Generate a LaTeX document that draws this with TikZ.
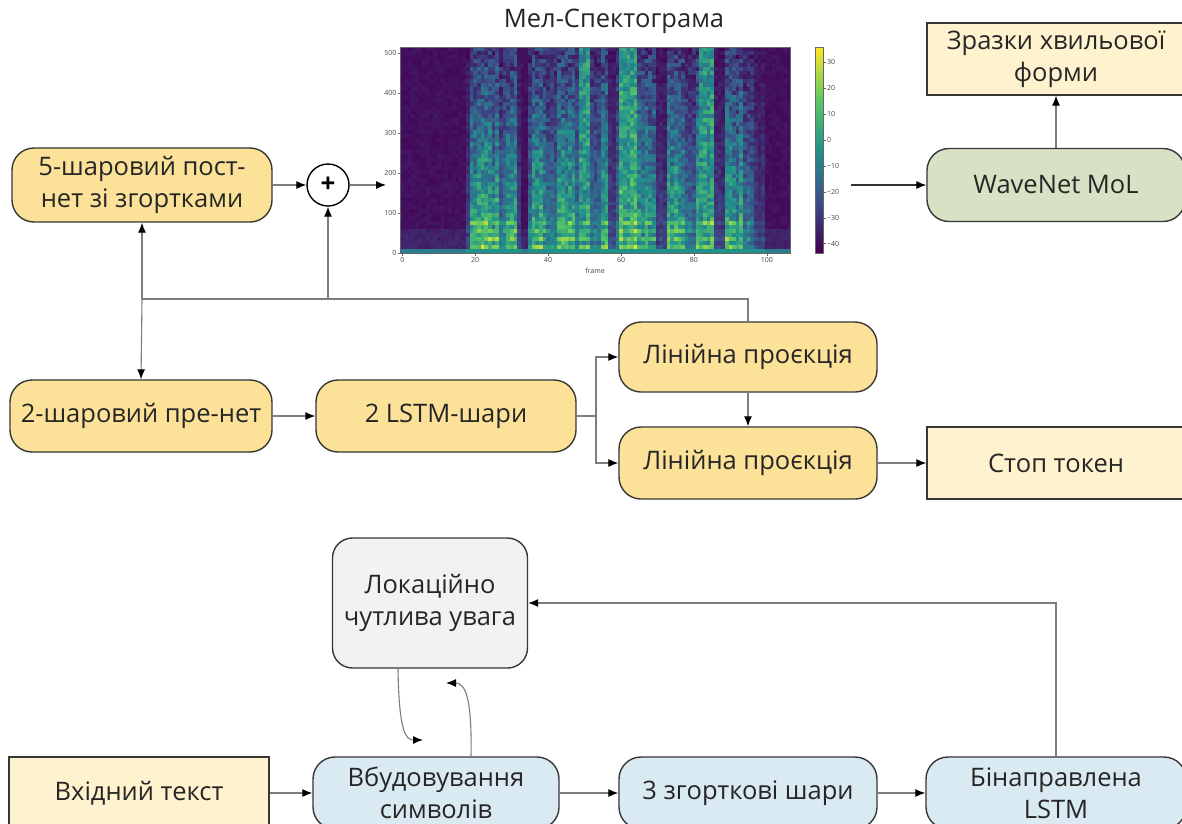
\documentclass[tikz,border=0pt]{standalone}
\usepackage{fontspec}
\setmainfont{Open Sans}
\usetikzlibrary{arrows.meta,calc}

% palette
\definecolor{boxline}{RGB}{55,55,55}
\definecolor{gold}{RGB}{252,225,152}
\definecolor{cream}{RGB}{255,242,206}
\definecolor{sage}{RGB}{214,226,195}
\definecolor{skyb}{RGB}{218,234,243}
\definecolor{greyb}{RGB}{242,242,242}
\definecolor{conn}{RGB}{125,125,125}
\definecolor{ticktxt}{RGB}{70,70,70}
% viridis stops
\definecolor{vA}{RGB}{68,1,84}
\definecolor{vB}{RGB}{59,82,139}
\definecolor{vC}{RGB}{33,145,140}
\definecolor{vD}{RGB}{94,201,98}
\definecolor{vE}{RGB}{253,231,37}

\newcommand\bxf{\fontsize{25.5}{32}\selectfont}
\newcommand\tkf{\fontsize{7}{8}\selectfont}

% map a value in [0,1] to the viridis colour "spc"
\newcommand\setvir[1]{%
  \pgfmathsetmacro\virv{max(0,min(0.999,#1))}%
  \pgfmathtruncatemacro\virs{floor(\virv*4)}%
  \pgfmathsetmacro\virt{(\virv*4-\virs)*100}%
  \ifcase\virs\relax
    \colorlet{spc}{vB!\virt!vA}%
  \or \colorlet{spc}{vC!\virt!vB}%
  \or \colorlet{spc}{vD!\virt!vC}%
  \else \colorlet{spc}{vE!\virt!vD}%
  \fi}

\tikzset{
  blk/.style={draw=boxline, line width=1.4pt, align=center, font=\bxf,
              inner sep=0pt, text=black!85},
  rbox/.style={blk, rounded corners=22pt},
  sbox/.style={blk},
  line/.style={draw=conn, line width=1.1pt},
  arr/.style={line, -{Latex[length=10pt,width=8pt,color=black]}},
}

\begin{document}
\begin{tikzpicture}[x=1pt,y=-1pt]
\useasboundingbox (0,0) rectangle (1182,823);
\fill[white] (0,0) rectangle (1182,823);
\clip (0,0) rectangle (1182,823);

% ---------- mel spectrogram ----------
\node[font=\bxf, text=black!85] (title) at (614,21) {Мел-Спектограма};
\pgfmathsetseed{11}
\foreach \lev [count=\fidx from 0] in {0,0,0,0,0,0,0,0,0,0,0,0,0,0,0,0,0,0,1,3,3,3,3,3,3,3,3,2,2,3,3,3,1,0,0,2,3,3,3,3,2,2,2,3,3,3,3,3,2,4,4,4,2,2,2,3,3,1,1,2,4,4,4,4,4,3,3,3,3,3,1,1,1,3,3,3,3,3,2,2,2,3,4,4,4,4,1,1,1,3,3,3,3,3,2,2,2,1,1,1,0,0,0,0,0,0,0}{
  \pgfmathsetmacro\spc{0.82+0.3*rnd}
  \pgfmathsetmacro\spg{min(\lev,3)/3}
  \foreach \bj in {0,...,51}{
    \pgfmathsetmacro\spr{rnd}
    \ifnum\lev=0
      \pgfmathsetmacro\spv{(\bj==0)*0.42+(\bj>0)*(0.02+0.05*\spr+(\bj<=5)*0.06)}
    \else
      \ifnum\bj=0
        \def\spv{0.5}
      \else
        \pgfmathsetmacro\spv{\spg*\spc*(0.62-0.45*\bj/51)+\spg*0.3*(\spr-0.5)
          +(\bj<=8)*\spg*0.14*mod(\bj,2)+(\lev==4)*0.34*\bj/51}
      \fi
    \fi
    \setvir{\spv}
    \fill[spc] (400.5+\fidx*3.645,253-\bj*3.9615) rectangle ++(3.745,-4.06);
  }
}
\draw[black!60, line width=0.4pt] (400.5,47) rectangle (790.5,253);
% axis ticks
\foreach \v in {0,100,200,300,400,500}{
  \draw[black!60, line width=0.4pt] (398,252.7-\v*0.4) -- (400.5,252.7-\v*0.4);
  \node[font=\tkf, text=ticktxt, anchor=east, inner sep=1pt] at (397.5,252.7-\v*0.4) {\v};
}
\foreach \v in {0,20,40,60,80,100}{
  \draw[black!60, line width=0.4pt] (402.3+\v*3.645,253) -- (402.3+\v*3.645,255.5);
  \node[font=\tkf, text=ticktxt, anchor=north, inner sep=1pt] at (402.3+\v*3.645,256) {\v};
}
\node[font=\tkf, text=ticktxt] at (595,271) {frame};
% colour bar
\foreach \k in {0,...,59}{
  \setvir{\k/59}
  \fill[spc] (815,253-\k*3.4333) rectangle ++(8,-3.53);
}
\draw[black!60, line width=0.4pt] (815,47) rectangle (823,253);
\foreach \v/\t in {30/30,20/20,10/10,0/0,-10/−10,-20/−20,-30/−30,-40/−40}{
  \draw[black!60, line width=0.4pt] (823,140-\v*2.59) -- (825.5,140-\v*2.59);
  \node[font=\tkf, text=ticktxt, anchor=west, inner sep=1pt] at (826,140-\v*2.59) {\t};
}
\coordinate (specin) at (386,185);
\coordinate (specout) at (851,185);

% ---------- decoder ----------
\node[rbox, fill=gold, minimum width=260, minimum height=74] (post) at (142,185)
  {5-шаровий пост-\\нет зі згортками};
\node[draw=black, line width=1.4pt, circle, minimum size=42, inner sep=0pt,
      font=\fontsize{26}{26}\selectfont\bfseries] (plus) at (328,185) {+};
\node[rbox, fill=gold, minimum width=262, minimum height=72] (pre) at (141,416)
  {2-шаровий пре-нет};
\node[rbox, fill=gold, minimum width=260, minimum height=72] (lstm) at (446,416)
  {2 LSTM-шари};
\node[rbox, fill=gold, minimum width=258, minimum height=70] (proj1) at (748,357)
  {Лінійна проєкція};
\node[rbox, fill=gold, minimum width=258, minimum height=72] (proj2) at (748,463)
  {Лінійна проєкція};
\node[sbox, fill=cream, minimum width=258, minimum height=72] (stop) at (1056,463)
  {Стоп токен};
\node[rbox, fill=sage, minimum width=258, minimum height=73] (wave) at (1056,185)
  {WaveNet MoL};
\node[sbox, fill=cream, minimum width=258, minimum height=72] (samp) at (1056,59)
  {Зразки хвильової\\форми};

% ---------- encoder ----------
\node[rbox, rounded corners=20pt, fill=greyb, minimum width=195, minimum height=130]
  (att) at (430,603) {Локаційно\\чутлива увага};
\node[sbox, fill=cream, minimum width=260, minimum height=72] (inp) at (139,793)
  {Вхідний текст};
\node[rbox, fill=skyb, minimum width=246, minimum height=72] (emb) at (436,793)
  {Вбудовування\\символів};
\node[rbox, fill=skyb, minimum width=258, minimum height=72] (conv) at (748,793)
  {3 згорткові шари};
\node[rbox, fill=skyb, minimum width=260, minimum height=72] (bil) at (1056,793)
  {Бінаправлена\\LSTM};

% ---------- connectors ----------
\draw[arr] (post.east) -- (plus.west);
\draw[arr] (plus.east) -- (specin);
\draw[arr, draw=black!80] (specout) -- (wave.west);
\draw[arr] (wave.north) -- (samp.south);

\coordinate (jn) at (142,299);
\draw[line] (proj1.north) |- (jn);
\draw[arr] (jn) -- (post.south);
\draw[arr] (jn) -- (pre.north);
\draw[arr] (plus.south |- jn) -- (plus.south);

\draw[arr] (pre.east) -- (lstm.west);
\coordinate (br) at (596,416);
\draw[line] (lstm.east) -- (br);
\draw[arr] (br) |- (proj1.west);
\draw[arr] (br) |- (proj2.west);
\draw[arr] (proj1.south) -- (proj2.north);
\draw[arr] (proj2.east) -- (stop.west);

\draw[arr] (inp.east) -- (emb.west);
\draw[arr] (emb.east) -- (conv.west);
\draw[arr] (conv.east) -- (bil.west);
\draw[arr] (bil.north) |- (att.east);

\coordinate (ta) at (423,740);
\coordinate (tb) at (446,683);
\draw[arr] ([xshift=-32pt]att.south) .. controls (399,733) and (406,740) .. (ta);
\draw[arr] ([xshift=35pt]emb.north) .. controls (472,700) and (466,683) .. (tb);
\end{tikzpicture}
\end{document}
